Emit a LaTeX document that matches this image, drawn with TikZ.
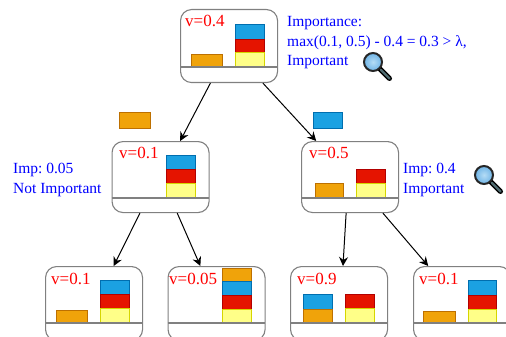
\documentclass[tikz,border=0pt]{standalone}
\usepackage{fontspec}
\setmainfont{Liberation Serif}
\usetikzlibrary{arrows.meta,calc}
\definecolor{oF}{HTML}{F0A30A}\definecolor{oS}{HTML}{BD7000}
\definecolor{bF}{HTML}{1BA1E2}\definecolor{bS}{HTML}{006EAF}
\definecolor{rF}{HTML}{E51400}\definecolor{rS}{HTML}{B20000}
\definecolor{yF}{HTML}{FFFF88}\definecolor{yS}{HTML}{D6D600}
\definecolor{txtblue}{HTML}{0000FF}\definecolor{txtred}{HTML}{FF0000}
\definecolor{lensA}{HTML}{B5DCF5}\definecolor{lensB}{HTML}{6FB4E6}
\definecolor{handleC}{HTML}{4F6B70}
\tikzset{
  treebox/.style={draw=black!50,line width=1.1pt,rounded corners=11pt,fill=none,anchor=north west,inner sep=0pt,minimum width=97pt},
  sepline/.style={draw=black!50,line width=1.1pt},
  oblk/.style={fill=oF,draw=oS,line width=.9pt},
  bblk/.style={fill=bF,draw=bS,line width=.9pt},
  rblk/.style={fill=rF,draw=rS,line width=.9pt},
  yblk/.style={fill=yF,draw=yS,line width=.9pt},
  vlabel/.style={text=txtred,font=\fontsize{17}{17}\selectfont,anchor=base west,inner sep=0pt},
  note/.style={text=txtblue,font=\fontsize{15.5}{19.5}\selectfont\frenchspacing,anchor=north west,inner sep=0pt,align=left},
  link/.style={draw=black,line width=1pt,-{Stealth[length=9pt,width=9pt,inset=3pt]}}
}
\newcommand{\blk}[5]{\path[#1] (#2,#3) rectangle (#4,#5);}
\newcommand{\lens}[2]{%
  \begin{scope}[shift={(#1,#2)}]
    \draw[black,line width=5pt,line cap=round] (6,6) -- (16.5,16.5);
    \draw[handleC,line width=2.4pt,line cap=round] (8,8) -- (16.5,16.5);
    \draw[black!85,line width=2pt,inner color=lensA,outer color=lensB] (0,0) circle (9pt);
  \end{scope}}
\begin{document}
\begin{tikzpicture}[x=1pt,y=-1pt]
\useasboundingbox (0,0) rectangle (506,337);
\clip (0,0) rectangle (506,337);
\blk{oblk}{191}{54}{222}{67}\blk{bblk}{235}{24}{264}{39}\blk{rblk}{235}{39}{264}{52}\blk{yblk}{235}{52}{264}{67}
\blk{bblk}{166}{155}{195}{169}\blk{rblk}{166}{169}{195}{183}\blk{yblk}{166}{183}{195}{198}
\blk{oblk}{315}{183}{343}{198}\blk{rblk}{356}{169}{385}{183}\blk{yblk}{356}{183}{385}{198}
\blk{oblk}{56}{310}{87}{323}\blk{bblk}{100}{280}{129}{294}\blk{rblk}{100}{294}{129}{308}\blk{yblk}{100}{308}{129}{323}
\blk{oblk}{222}{268}{251}{281}\blk{bblk}{222}{281}{251}{295}\blk{rblk}{222}{295}{251}{309}\blk{yblk}{222}{309}{251}{323}
\blk{bblk}{303}{294}{332}{309}\blk{oblk}{303}{309}{332}{323}\blk{rblk}{345}{294}{374}{308}\blk{yblk}{345}{308}{374}{323}
\blk{oblk}{423}{311}{455}{323}\blk{bblk}{468}{280}{496}{295}\blk{rblk}{468}{295}{496}{309}\blk{yblk}{468}{309}{496}{323}
\blk{oblk}{119}{112}{150}{128}\blk{bblk}{313}{112}{342}{128}
\node[treebox,minimum height=73pt] (root) at (180,9) {};
\node[treebox,minimum height=71pt] (left) at (111.5,141) {};
\node[treebox,minimum height=71pt] (right) at (301,141) {};
\node[treebox,minimum height=74pt] (ll) at (45,266) {};
\node[treebox,minimum height=74pt] (lr) at (167.5,266) {};
\node[treebox,minimum height=74pt] (rl) at (290,266) {};
\node[treebox,minimum height=74pt] (rr) at (413,266) {};
\draw[sepline] (180,67) -- (277,67);
\draw[sepline] (111.5,198) -- (208.5,198);
\draw[sepline] (301,198) -- (398,198);
\draw[sepline] (45,323) -- (142,323);
\draw[sepline] (167.5,323) -- (264.5,323);
\draw[sepline] (290,323) -- (387,323);
\draw[sepline] (413,323) -- (510,323);
\node[vlabel] (v0) at (185,27) {v=0.4};
\node[vlabel] (v1) at (119,158) {v=0.1};
\node[vlabel] (v2) at (309,158) {v=0.5};
\node[vlabel] (v3) at (51,284) {v=0.1};
\node[vlabel] (v4) at (169,284) {v=0.05};
\node[vlabel] (v5) at (297,284) {v=0.9};
\node[vlabel] (v6) at (419,284) {v=0.1};
\node[note] (n0) at (287,16.5) {Importance:\\max(0.1, 0.5) - 0.4 = 0.3 > λ,\\Important};
\node[note] (n1) at (13,163) {Imp: 0.05\\Not Important};
\node[note] (n2) at (403,163) {Imp: 0.4\\Important};
\draw[link] ($(root.south west)!.31!(root.south east)$) -- ($(left.north west)!.70!(left.north east)$);
\draw[link] ($(root.south west)!.845!(root.south east)$) -- ($(right.north west)!.155!(right.north east)$);
\draw[link] ($(left.south west)!.29!(left.south east)$) -- ($(ll.north west)!.70!(ll.north east)$);
\draw[link] ($(left.south west)!.67!(left.south east)$) -- ($(lr.north west)!.335!(lr.north east)$);
\draw[link] ($(right.south west)!.46!(right.south east)$) -- ($(rl.north west)!.54!(rl.north east)$);
\draw[link] ($(right.south west)!.835!(right.south east)$) -- ($(rr.north west)!.155!(rr.north east)$);
\lens{373}{62}
\lens{484}{175}
\end{tikzpicture}
\end{document}
